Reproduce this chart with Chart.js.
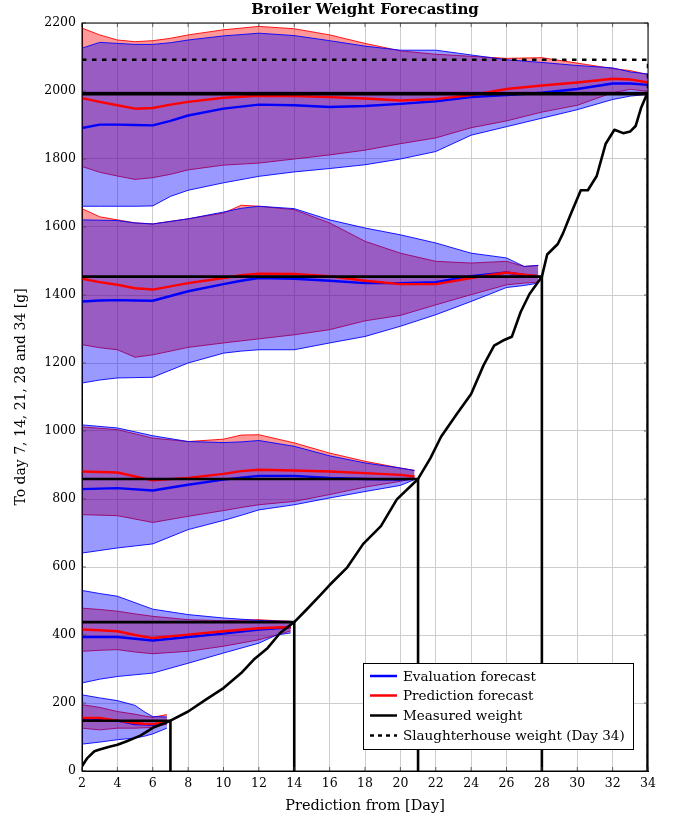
<!DOCTYPE html>
<html><head><meta charset="utf-8">
<script src="https://cdn.jsdelivr.net/npm/chart.js@4/dist/chart.umd.min.js"></script>
<style>html,body{margin:0;padding:0;background:#fff}</style>
</head><body>
<canvas id="c" width="676" height="819"></canvas>
<script>
// ---------- DATA ----------
const xTicks = [2,4,6,8,10,12,14,16,18,20,22,24,26,28,30,32,34];
const yTicks = [0,200,400,600,800,1000,1200,1400,1600,1800,2000,2200];

const targetDays = [7, 14, 21, 28, 34];
const targetWeights = [148, 438, 859, 1454, 1992];
const slaughterWeight = 2092;

const measuredDays = [2, 2.3, 2.7, 3, 3.6, 4, 4.5, 5.3, 6, 7, 8, 9, 10, 11, 11.7, 12.5, 13.2, 14, 14.7, 15.5, 16, 17, 17.9, 18.9, 19.8, 21, 21.7, 22.3, 23.2, 24, 24.7, 25.3, 25.8, 26.3, 26.8, 27.3, 28, 28.3, 28.9, 29.2, 29.6, 30.2, 30.6, 31.1, 31.6, 32.1, 32.6, 33, 33.3, 33.6, 33.9, 34];
const measuredWeight = [14, 38, 58, 63, 72, 77, 87, 104, 127, 148, 175, 210, 244, 288, 327, 362, 406, 438, 475, 519, 547, 599, 668, 720, 799, 859, 920, 983, 1051, 1109, 1193, 1251, 1266, 1277, 1350, 1403, 1454, 1519, 1550, 1582, 1634, 1708, 1708, 1750, 1844, 1886, 1876, 1881, 1897, 1949, 1986, 1992];

// Day 7
const g7Days     = [2, 3, 4, 5, 5.5, 6, 6.8];
const g7BlueHi   = [224, 215, 207, 193, 175, 160, 159];
const g7RedHi    = [195, 187, 175, 167, 162, 158, 166];
const g7RedMean  = [156, 156, 148, 141, 139, 138, 144];
const g7BlueMean = [151, 150, 148, 138, 137, 136, 142];
const g7RedLo    = [126, 121, 126, 126, 127, 128, 138];
const g7BlueLo   = [79, 85, 92, 97, 102, 109, 126];

// Day 14
const g14Days     = [2, 3, 4, 5, 6, 8, 10, 12, 13, 13.8];
const g14BlueHi   = [531, 522, 514, 495, 476, 460, 450, 443, 441, 440];
const g14RedHi    = [479, 475, 470, 462, 455, 445, 442, 445, 442, 440];
const g14RedMean  = [416, 414, 411, 400, 391, 401, 411, 420, 422, 423];
const g14BlueMean = [394, 394, 394, 389, 384, 394, 404, 416, 420, 423];
const g14RedLo    = [352, 355, 357, 350, 345, 352, 367, 386, 400, 412];
const g14BlueLo   = [259, 270, 278, 283, 288, 317, 347, 376, 400, 406];

// Day 21
const g21Days     = [2, 4, 6, 8, 10, 11, 12, 14, 16, 18, 20, 20.8];
const g21BlueHi   = [1018, 1009, 986, 969, 966, 968, 972, 955, 927, 906, 891, 884];
const g21RedHi    = [1012, 1004, 979, 969, 976, 988, 989, 965, 935, 911, 891, 884];
const g21RedMean  = [881, 878, 855, 862, 874, 882, 886, 884, 881, 876, 871, 866];
const g21BlueMean = [829, 832, 825, 842, 857, 863, 868, 868, 862, 859, 857, 860];
const g21RedLo    = [754, 751, 731, 749, 766, 775, 783, 793, 813, 835, 852, 860];
const g21BlueLo   = [641, 656, 668, 710, 737, 752, 768, 783, 803, 822, 840, 857];

// Day 28
const g28Days     = [2, 3, 4, 5, 6, 8, 10, 11, 12, 14, 16, 18, 20, 22, 24, 26, 27, 27.8];
const g28RedHi    = [1654, 1630, 1621, 1612, 1609, 1624, 1641, 1664, 1661, 1651, 1612, 1558, 1523, 1499, 1494, 1499, 1484, 1487];
const g28BlueHi   = [1621, 1620, 1619, 1612, 1609, 1624, 1644, 1655, 1661, 1654, 1621, 1597, 1577, 1553, 1523, 1509, 1484, 1487];
const g28RedMean  = [1448, 1438, 1430, 1420, 1416, 1435, 1450, 1458, 1463, 1462, 1455, 1442, 1432, 1432, 1450, 1466, 1460, 1455];
const g28BlueMean = [1381, 1384, 1385, 1384, 1383, 1411, 1432, 1442, 1450, 1448, 1442, 1435, 1435, 1438, 1455, 1466, 1458, 1455];
const g28RedLo    = [1254, 1245, 1239, 1217, 1224, 1246, 1259, 1265, 1271, 1283, 1298, 1324, 1340, 1371, 1401, 1430, 1435, 1438];
const g28BlueLo   = [1141, 1150, 1156, 1157, 1158, 1200, 1229, 1235, 1239, 1239, 1259, 1278, 1308, 1342, 1381, 1422, 1428, 1435];

// Day 34
const g34Days     = [2, 3, 4, 5, 6, 7, 8, 10, 12, 14, 16, 18, 20, 22, 24, 26, 28, 30, 32, 33, 34];
const g34RedHi    = [2185, 2165, 2150, 2145, 2148, 2155, 2165, 2180, 2190, 2183, 2165, 2140, 2118, 2108, 2102, 2096, 2098, 2082, 2066, 2060, 2048];
const g34BlueHi   = [2126, 2143, 2140, 2137, 2137, 2142, 2150, 2162, 2170, 2163, 2148, 2132, 2120, 2120, 2106, 2092, 2084, 2075, 2068, 2056, 2050];
const g34BlueMean = [1891, 1901, 1901, 1900, 1899, 1912, 1928, 1948, 1960, 1958, 1953, 1956, 1962, 1970, 1982, 1988, 1995, 2006, 2022, 2022, 2018];
const g34RedMean  = [1979, 1968, 1958, 1948, 1950, 1960, 1968, 1980, 1986, 1985, 1982, 1978, 1972, 1976, 1988, 2006, 2016, 2025, 2036, 2034, 2025];
const g34RedLo    = [1778, 1761, 1750, 1740, 1745, 1755, 1768, 1782, 1788, 1800, 1812, 1826, 1845, 1862, 1892, 1912, 1938, 1958, 1995, 2005, 1999];
const g34BlueLo   = [1661, 1661, 1661, 1661, 1662, 1690, 1708, 1730, 1749, 1762, 1772, 1783, 1800, 1822, 1870, 1895, 1920, 1945, 1975, 1985, 1990];

const legendLabels = ['Evaluation forecast', 'Prediction forecast', 'Measured weight', 'Slaughterhouse weight (Day 34)'];

// ---------- BUILD ----------
const FONT = "'DejaVu Serif', 'Liberation Serif', serif";
const BLUE = '#0000ff', RED = '#ff0000';
const pts = (xs, ys) => xs.map((x, i) => ({x, y: ys[i]}));

const groups = [
  {d: g7Days,  bh: g7BlueHi,  bl: g7BlueLo,  rh: g7RedHi,  rl: g7RedLo,  bm: g7BlueMean,  rm: g7RedMean},
  {d: g14Days, bh: g14BlueHi, bl: g14BlueLo, rh: g14RedHi, rl: g14RedLo, bm: g14BlueMean, rm: g14RedMean},
  {d: g21Days, bh: g21BlueHi, bl: g21BlueLo, rh: g21RedHi, rl: g21RedLo, bm: g21BlueMean, rm: g21RedMean},
  {d: g28Days, bh: g28BlueHi, bl: g28BlueLo, rh: g28RedHi, rl: g28RedLo, bm: g28BlueMean, rm: g28RedMean},
  {d: g34Days, bh: g34BlueHi, bl: g34BlueLo, rh: g34RedHi, rl: g34RedLo, bm: g34BlueMean, rm: g34RedMean},
];

const base = {pointRadius: 0, tension: 0, fill: false, borderJoinStyle: 'round'};
const datasets = [];
groups.forEach(g => {
  const iRl = datasets.length;
  datasets.push({...base, data: pts(g.d, g.rl), borderColor: RED, borderWidth: 0.9, order: 60});
  datasets.push({...base, data: pts(g.d, g.rh), borderColor: RED, borderWidth: 0.9, order: 59,
                 fill: {target: iRl}, backgroundColor: 'rgba(255,0,0,0.4)'});
  const iBl = datasets.length;
  datasets.push({...base, data: pts(g.d, g.bl), borderColor: BLUE, borderWidth: 0.9, order: 50});
  datasets.push({...base, data: pts(g.d, g.bh), borderColor: BLUE, borderWidth: 0.9, order: 49,
                 fill: {target: iBl}, backgroundColor: 'rgba(0,0,255,0.4)'});
  datasets.push({...base, data: pts(g.d, g.bm), borderColor: BLUE, borderWidth: 2.4, order: 30});
  datasets.push({...base, data: pts(g.d, g.rm), borderColor: RED, borderWidth: 2.4, order: 29});
});
datasets.push({...base, data: pts(measuredDays, measuredWeight), borderColor: '#000', borderWidth: 2.6, order: 5});
targetDays.forEach((t, i) => {
  const v = targetWeights[i];
  datasets.push({...base, data: [{x: xTicks[0], y: v}, {x: t, y: v}, {x: t, y: 0}],
                 borderColor: '#000', borderWidth: t === 34 ? 3.4 : 2.6, borderJoinStyle: 'miter', order: 4});
});
datasets.push({...base, data: [{x: xTicks[0], y: slaughterWeight}, {x: 34, y: slaughterWeight}, {x: 34, y: 0}],
               borderColor: '#000', borderWidth: 2.6, borderDash: [4.5, 5.5], borderCapStyle: 'butt', order: 3});

const framePlugin = {
  id: 'frame',
  afterDraw(chart) {
    const {ctx, chartArea: a, scales: {x, y}} = chart;
    ctx.save();
    // inner tick marks
    ctx.strokeStyle = '#444'; ctx.lineWidth = 0.8;
    ctx.beginPath();
    xTicks.forEach(v => { const px = x.getPixelForValue(v);
      ctx.moveTo(px, a.bottom); ctx.lineTo(px, a.bottom - 4);
      ctx.moveTo(px, a.top); ctx.lineTo(px, a.top + 4); });
    yTicks.forEach(v => { const py = y.getPixelForValue(v);
      ctx.moveTo(a.left, py); ctx.lineTo(a.left + 4, py);
      ctx.moveTo(a.right, py); ctx.lineTo(a.right - 4, py); });
    ctx.stroke();
    // frame
    ctx.strokeStyle = '#000'; ctx.lineWidth = 1;
    ctx.strokeRect(a.left, a.top, a.right - a.left, a.bottom - a.top);
    // title
    ctx.fillStyle = '#000';
    ctx.font = 'bold 15px ' + FONT;
    ctx.textAlign = 'center'; ctx.textBaseline = 'middle';
    ctx.fillText('Broiler Weight Forecasting', (a.left + a.right) / 2, 10);
    // legend
    const lx = 363, ly = 663, lw = 270, lh = 86;
    ctx.fillStyle = '#fff';
    ctx.fillRect(lx, ly, lw, lh);
    ctx.strokeStyle = '#000'; ctx.lineWidth = 1;
    ctx.strokeRect(lx + 0.5, ly + 0.5, lw, lh);
    const rows = [676, 695.5, 715.5, 735.5];
    const styles = [{c: BLUE}, {c: RED}, {c: '#000'}, {c: '#000', dash: [4, 4]}];
    ctx.font = '13.5px ' + FONT;
    ctx.textAlign = 'left';
    rows.forEach((ry, i) => {
      ctx.strokeStyle = styles[i].c; ctx.lineWidth = 2.5;
      ctx.setLineDash(styles[i].dash || []);
      ctx.beginPath(); ctx.moveTo(370, ry); ctx.lineTo(397, ry); ctx.stroke();
      ctx.setLineDash([]);
      ctx.fillStyle = '#000';
      ctx.fillText(legendLabels[i], 403, ry + 1);
    });
    ctx.restore();
  }
};

new Chart(document.getElementById('c'), {
  type: 'line',
  data: {datasets},
  options: {
    responsive: false, animation: false, devicePixelRatio: 1,
    layout: {padding: {top: 23, right: 28, left: 0, bottom: 0}},
    plugins: {legend: {display: false}, tooltip: {enabled: false}, filler: {propagate: false}},
    scales: {
      x: {type: 'linear', min: 2, max: 34,
          afterBuildTicks: s => { s.ticks = xTicks.map(v => ({value: v})); },
          afterFit: s => { s.height = 48; },
          ticks: {color: '#000', font: {family: FONT, size: 12.5}, padding: 5, maxRotation: 0, autoSkip: false,
                  callback: v => String(v)},
          grid: {color: '#cdcdcd', lineWidth: 1, drawTicks: false},
          border: {color: '#000', width: 1},
          title: {display: true, text: 'Prediction from [Day]', color: '#000', font: {family: FONT, size: 14.5}, padding: {top: 0, bottom: 4}}},
      y: {type: 'linear', min: 0, max: 2200,
          afterBuildTicks: s => { s.ticks = yTicks.map(v => ({value: v})); },
          afterFit: s => { s.width = 82; },
          ticks: {color: '#000', font: {family: FONT, size: 12.5}, padding: 6, autoSkip: false,
                  callback: v => String(v)},
          grid: {color: '#cdcdcd', lineWidth: 1, drawTicks: false},
          border: {color: '#000', width: 1},
          title: {display: true, text: 'To day 7, 14, 21, 28 and 34 [g]', color: '#000', font: {family: FONT, size: 14}, padding: {top: 13, bottom: 0}}}
    }
  },
  plugins: [framePlugin]
});
</script>
</body></html>
